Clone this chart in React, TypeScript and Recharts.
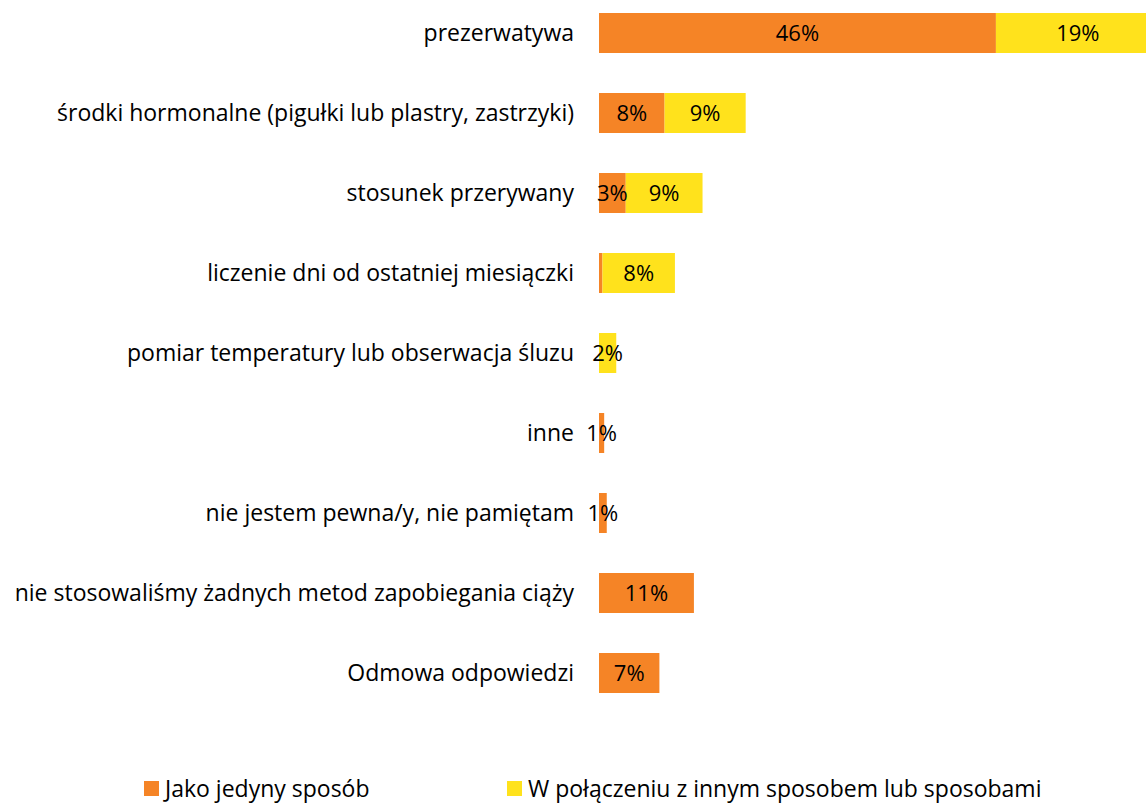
import { Bar, BarChart, LabelList, Legend, XAxis, YAxis } from "recharts";

const categories = [
  "prezerwatywa",
  "środki hormonalne (pigułki lub plastry, zastrzyki)",
  "stosunek przerywany",
  "liczenie dni od ostatniej miesiączki",
  "pomiar temperatury lub obserwacja śluzu",
  "inne",
  "nie jestem pewna/y, nie pamiętam",
  "nie stosowaliśmy żadnych metod zapobiegania ciąży",
  "Odmowa odpowiedzi",
];

const jedyny = [46, 7.6, 3.1, 0.4, 0, 0.6, 0.9, 11, 7];
const polaczenie = [19, 9.4, 8.9, 8.4, 2, 0, 0, 0, 0];

const seriesNames = ["Jako jedyny sposób", "W połączeniu z innym sposobem lub sposobami"];
const seriesColors = ["#F58426", "#FFE21C"];

const data = categories.map((name, i) => ({
  name,
  jedyny: jedyny[i],
  polaczenie: polaczenie[i],
}));

const FONT = "'Open Sans', sans-serif";
const legendLeft = [136, 499];

const fmt = (v: any) => {
  const r = Math.round(Number(v));
  return r > 0 ? `${r}%` : "";
};

function LegendContent() {
  return (
    <div style={{ position: "relative", height: 91, fontFamily: FONT, fontSize: 23, color: "#000" }}>
      {seriesNames.map((n, i) => (
        <div
          key={n}
          style={{
            position: "absolute",
            left: legendLeft[i],
            top: 64,
            height: 22,
            lineHeight: "22px",
            display: "flex",
            alignItems: "center",
            whiteSpace: "nowrap",
          }}
        >
          <span
            style={{
              display: "inline-block",
              width: 15,
              height: 15,
              background: seriesColors[i],
              marginRight: 6,
            }}
          />
          <span>{n}</span>
        </div>
      ))}
    </div>
  );
}

export default function App() {
  return (
    <div
      style={{
        position: "absolute",
        left: 8,
        top: -7,
        width: 1138,
        height: 811,
        overflow: "hidden",
      }}
    >
      <BarChart
        width={1195}
        height={811}
        data={data}
        layout="vertical"
        margin={{ top: 0, right: 0, bottom: 0, left: 0 }}
        barSize={40}
      >
        <XAxis type="number" domain={[0, 70]} hide />
        <YAxis
          type="category"
          dataKey="name"
          width={591}
          axisLine={false}
          tickLine={false}
          tickSize={0}
          tickMargin={25}
          interval={0}
          tick={{ fill: "#000", fontSize: 23, fontFamily: FONT }}
        />
        <Legend
          verticalAlign="bottom"
          height={91}
          content={() => <LegendContent />}
          wrapperStyle={{ left: 0, width: 1195 }}
        />
        <Bar dataKey="jedyny" stackId="a" fill={seriesColors[0]} isAnimationActive={false}>
          <LabelList
            dataKey="jedyny"
            position="center"
            formatter={fmt}
            style={{ fill: "#000", fontSize: 22, fontFamily: FONT }}
          />
        </Bar>
        <Bar dataKey="polaczenie" stackId="a" fill={seriesColors[1]} isAnimationActive={false}>
          <LabelList
            dataKey="polaczenie"
            position="center"
            formatter={fmt}
            style={{ fill: "#000", fontSize: 22, fontFamily: FONT }}
          />
        </Bar>
      </BarChart>
    </div>
  );
}
